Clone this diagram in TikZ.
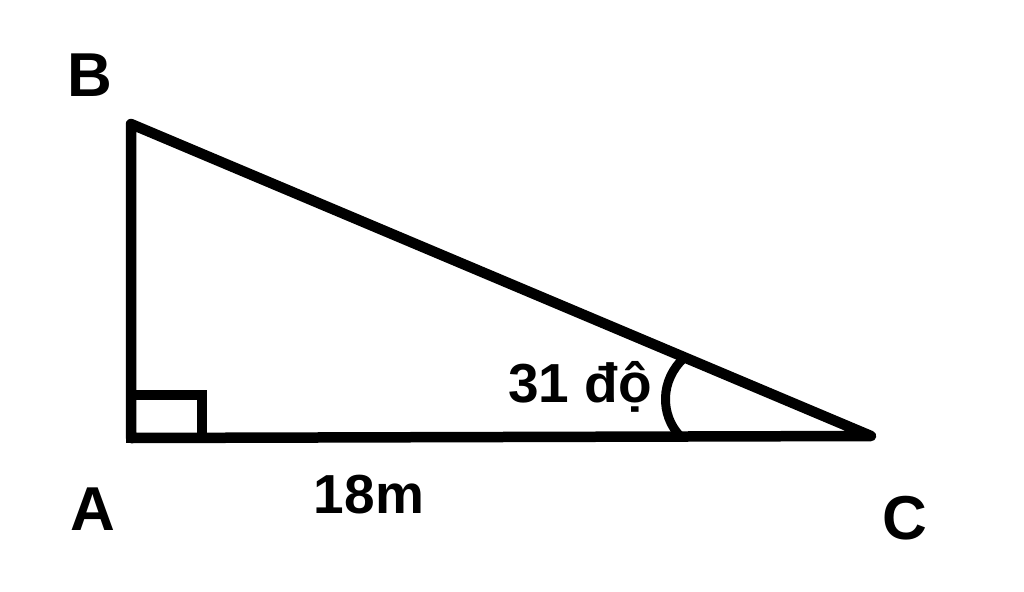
\documentclass[tikz,border=0pt]{standalone}
\usepackage{fontspec}
\setmainfont{Liberation Sans}
\begin{document}
\begin{tikzpicture}[x=1pt,y=-1pt,
  edge/.style={line width=10.5pt,line join=round,line cap=round},
  vlabel/.style={font=\fontsize{62}{62}\selectfont\bfseries,anchor=base,inner sep=0pt},
  mlabel/.style={font=\fontsize{55}{55}\selectfont\bfseries,anchor=base,inner sep=0pt}]
\useasboundingbox[fill=white] (0,0) rectangle (1024,591);
\coordinate (A) at (131,438);
\coordinate (B) at (131,124);
\coordinate (C) at (871,436);
\draw[edge] (A) -- (B) -- (C) -- cycle;
\coordinate (s1) at (131,395);
\coordinate (s2) at (202,438);
\draw[line width=10.5pt] (s1) rectangle (s2);
\coordinate (a1) at (684,358);
\coordinate (a2) at (680,436);
\draw[line width=9pt] (a1) .. controls (660,380) and (660,415) .. (a2);
\node[vlabel] (lB) at (90,97) {B};
\node[vlabel] (lA) at (93,530) {A};
\node[vlabel] (lC) at (905,539) {C};
\node[mlabel] (l18) at (369,513) {18m};
\node[mlabel] (lang) at (580,402) {31 độ};
\end{tikzpicture}
\end{document}
